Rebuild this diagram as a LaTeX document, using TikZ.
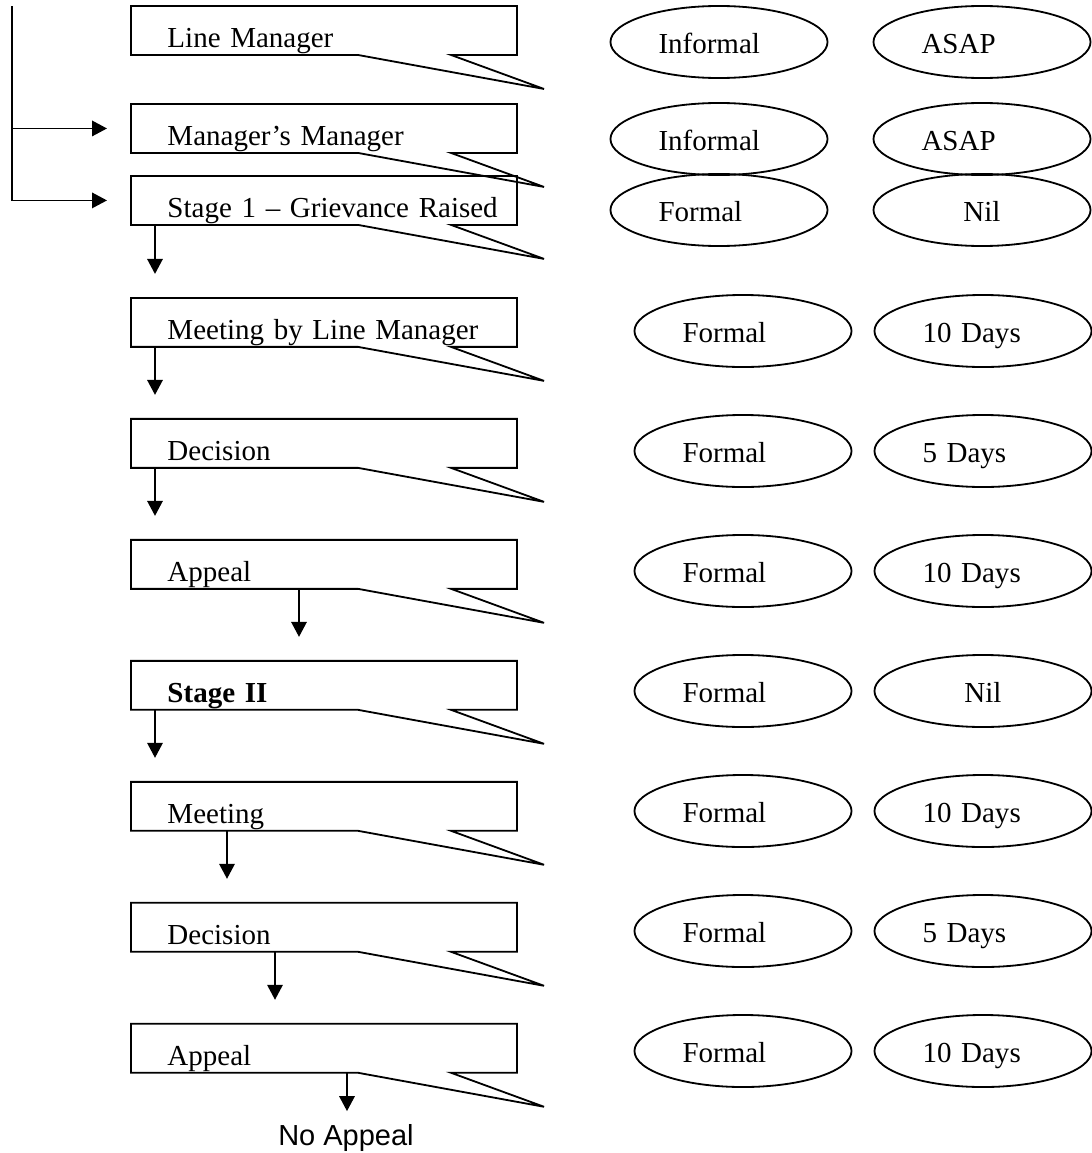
\documentclass[tikz,border=0pt]{standalone}
\usepackage{fontspec}
\setmainfont{Liberation Serif}
\setsansfont{Liberation Sans}
\usetikzlibrary{positioning, calc, arrows.meta, shapes.geometric}

\begin{document}
\begin{tikzpicture}[
		x=0.4137pt, y=-0.4137pt,
		every node/.style={font=\fontsize{12pt}{14pt}\selectfont},
		stagebox/.style={inner xsep=0pt, inner ysep=0pt, text width=159.3pt,
				text height=16.96pt, text depth=2.9pt, align=left,
				execute at begin node={\hspace*{14.89pt}}},
		kind/.style={ellipse, draw, line width=0.75pt, inner sep=0pt,
				minimum width=89.8pt, minimum height=29.8pt,
				text width=50.06pt, text height=11pt, text depth=1.5pt, align=left},
		flow/.style={draw, line width=0.75pt, shorten >=9.93pt,
				-{Triangle[length=6.2pt, width=6.4pt]}}
		]
    \useasboundingbox (0,0) rectangle (1091,1153);

    % stages
    \node[stagebox, anchor=north west] (LineMgr) at (131,6) {Line Manager};
    \node[stagebox, below=20.27pt of LineMgr] (MgrMgr) {Manager’s Manager};
    \node[stagebox, below=9.51pt of MgrMgr] (StageOne) {Stage 1 – Grievance Raised};
    \node[stagebox, below=30.2pt of StageOne] (MeetLM) {Meeting by Line Manager};
    \node[stagebox, below=29.79pt of MeetLM] (DecisionA) {Decision};
    \node[stagebox, below=29.79pt of DecisionA] (AppealA) {Appeal};
    \node[stagebox, below=29.79pt of AppealA] (StageTwo) {\textbf{Stage II}};
    \node[stagebox, below=29.79pt of StageTwo] (MeetB) {Meeting};
    \node[stagebox, below=29.79pt of MeetB] (DecisionB) {Decision};
    \node[stagebox, below=29.79pt of DecisionB] (AppealB) {Appeal};
    \node[font=\sffamily\fontsize{12pt}{14pt}\selectfont, anchor=base] (NoAppeal) at (346,1145) {No Appeal};

    % callout outlines
    \foreach \s in {LineMgr, MgrMgr, StageOne, MeetLM, DecisionA, AppealA, StageTwo, MeetB, DecisionB, AppealB}
        \draw[line width=0.75pt] (\s.south west) -- (\s.north west) -- (\s.north east)
            -- (\s.south east) -- ++(-66,0) -- ++(93,34) -- ++(-186,-34) -- cycle;

    % type and time limit
    \node[kind] (LineMgrType) at (719,42) {Informal};
    \node[kind] (LineMgrTime) at (982,42) {ASAP};
    \node[kind] (MgrMgrType) at (719,139) {Informal};
    \node[kind] (MgrMgrTime) at (982,139) {ASAP};
    \node[kind] (StageOneType) at (719,210) {Formal};
    \node[kind, align=center] (StageOneTime) at (982,210) {Nil};
    \node[kind] (MeetLMType) at (743,331) {Formal};
    \node[kind] (MeetLMTime) at (983,331) {10 Days};
    \node[kind] (DecisionAType) at (743,451) {Formal};
    \node[kind] (DecisionATime) at (983,451) {5 Days};
    \node[kind] (AppealAType) at (743,571) {Formal};
    \node[kind] (AppealATime) at (983,571) {10 Days};
    \node[kind] (StageTwoType) at (743,691) {Formal};
    \node[kind, align=center] (StageTwoTime) at (983,691) {Nil};
    \node[kind] (MeetBType) at (743,811) {Formal};
    \node[kind] (MeetBTime) at (983,811) {10 Days};
    \node[kind] (DecisionBType) at (743,931) {Formal};
    \node[kind] (DecisionBTime) at (983,931) {5 Days};
    \node[kind] (AppealBType) at (743,1051) {Formal};
    \node[kind] (AppealBTime) at (983,1051) {10 Days};

    % routes in
    \coordinate (Start) at (12,6);
    \draw[flow] (Start) |- (MgrMgr.west);
    \draw[flow] (Start) |- (StageOne.west);

    % down the procedure
    \draw[flow] ($(StageOne.south west)+(24,0)$) -- ($(MeetLM.north west)+(24,0)$);
    \draw[flow] ($(MeetLM.south west)+(24,0)$) -- ($(DecisionA.north west)+(24,0)$);
    \draw[flow] ($(DecisionA.south west)+(24,0)$) -- ($(AppealA.north west)+(24,0)$);
    \draw[flow] ($(AppealA.south west)+(168,0)$) -- ($(StageTwo.north west)+(168,0)$);
    \draw[flow] ($(StageTwo.south west)+(24,0)$) -- ($(MeetB.north west)+(24,0)$);
    \draw[flow] ($(MeetB.south west)+(96,0)$) -- ($(DecisionB.north west)+(96,0)$);
    \draw[flow] ($(DecisionB.south west)+(144,0)$) -- ($(AppealB.north west)+(144,0)$);
    \coordinate (AppealOut) at ($(AppealB.south west)+(216,0)$);
    \draw[flow, shorten >=1.8pt] (AppealOut) -- (AppealOut |- NoAppeal.north);

\end{tikzpicture}
\end{document}
